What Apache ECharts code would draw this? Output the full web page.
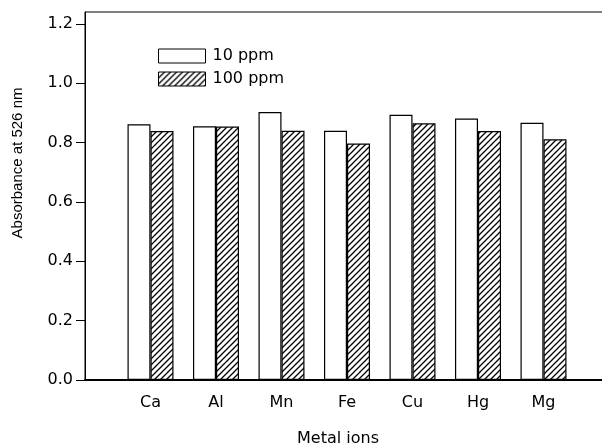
<!DOCTYPE html>
<html>
<head>
<meta charset="utf-8">
<script src="https://cdn.jsdelivr.net/npm/echarts@6/dist/echarts.min.js"></script>
<style>html,body{margin:0;padding:0;background:#fff;}#c{width:602px;height:447px;}</style>
</head>
<body>
<div id="c"></div>
<script>
const categories = ['Ca', 'Al', 'Mn', 'Fe', 'Cu', 'Hg', 'Mg'];
const ppm10 = [0.862, 0.855, 0.903, 0.840, 0.894, 0.881, 0.867];
const ppm100 = [0.839, 0.854, 0.840, 0.797, 0.865, 0.839, 0.811];
const seriesNames = ['10 ppm', '100 ppm'];
const yTicks = [0, 0.2, 0.4, 0.6, 0.8, 1.0, 1.2];

function hatch() {
  const s = 6;
  const cv = document.createElement('canvas');
  cv.width = s; cv.height = s;
  const g = cv.getContext('2d');
  g.fillStyle = '#fff';
  g.fillRect(0, 0, s, s);
  g.strokeStyle = '#000';
  g.lineWidth = 1.3;
  g.beginPath();
  g.moveTo(-1, s + 1); g.lineTo(s + 1, -1);
  g.moveTo(-1, 1); g.lineTo(1, -1);
  g.moveTo(s - 1, s + 1); g.lineTo(s + 1, s - 1);
  g.stroke();
  return cv;
}

const xData = [''].concat(categories, ['']);
const chart = echarts.init(document.getElementById('c'), null, {renderer: 'canvas'});
chart.setOption({
  animation: false,
  backgroundColor: '#fff',
  grid: {left: 85, top: 12, width: 524, height: 368, show: true, borderColor: '#000', borderWidth: 1,
         containLabel: false, outerBoundsMode: 'none'},
  legend: {
    orient: 'vertical', left: 153, top: 43, itemWidth: 47, itemHeight: 14, itemGap: 7,
    icon: 'rect',
    itemStyle: {borderColor: '#000', borderWidth: 1},
    textStyle: {fontFamily: 'DejaVu Sans', fontSize: 16, color: '#000', padding: [0, 0, 0, 2]},
    data: seriesNames
  },
  xAxis: {
    type: 'category', data: xData, boundaryGap: false,
    name: 'Metal ions', nameLocation: 'middle', nameGap: 51,
    nameTextStyle: {fontFamily: 'DejaVu Sans', fontSize: 16, color: '#000', padding: [0, 18, 0, 0]},
    axisLine: {lineStyle: {color: '#000', width: 2}},
    axisTick: {show: false},
    axisLabel: {fontFamily: 'DejaVu Sans', fontSize: 16, color: '#000', margin: 15, interval: 0},
    splitLine: {show: false}
  },
  yAxis: {
    type: 'value', min: 0, max: 1.24,
    name: 'Absorbance at 526 nm', nameLocation: 'middle', nameGap: 60,
    nameTextStyle: {fontFamily: 'Liberation Sans', fontSize: 15, color: '#000', padding: [0, 0, 0, 66]},
    axisLine: {show: true, lineStyle: {color: '#000', width: 1}},
    axisTick: {show: true, length: 9, customValues: yTicks, lineStyle: {color: '#000'}},
    axisLabel: {fontFamily: 'DejaVu Sans', fontSize: 16, color: '#000', margin: 12, customValues: yTicks,
      formatter: v => v.toFixed(1)},
    splitLine: {show: false}
  },
  series: [
    {name: seriesNames[0], type: 'bar', barWidth: 23, barGap: '0%',
     data: [null].concat(ppm10, [null]),
     itemStyle: {color: '#fff', borderColor: '#000', borderWidth: 1.2}},
    {name: seriesNames[1], type: 'bar', barWidth: 23, barGap: '0%',
     data: [null].concat(ppm100, [null]),
     itemStyle: {color: {image: hatch(), repeat: 'repeat'}, borderColor: '#000', borderWidth: 1.2}}
  ]
});
</script>
</body>
</html>
